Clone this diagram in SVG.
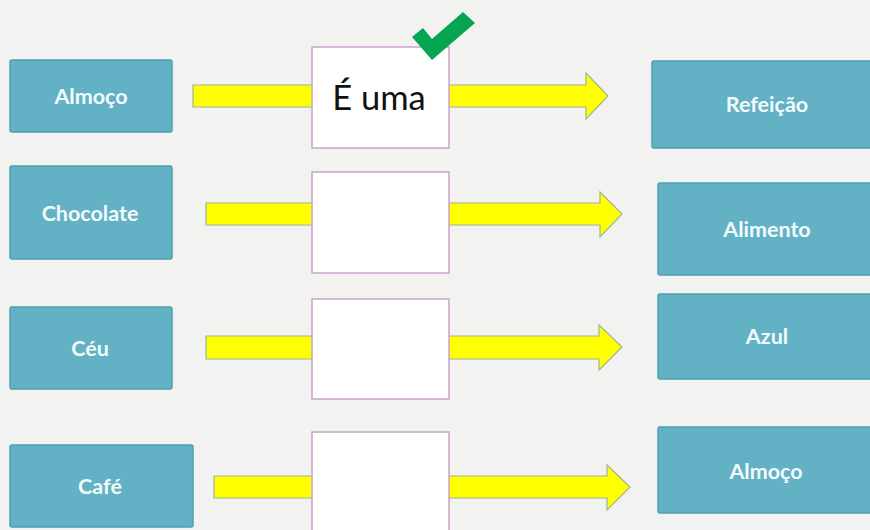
<svg xmlns="http://www.w3.org/2000/svg" width="870" height="530" viewBox="0 0 870 530">
<style>
.term{fill:#62b1c5;stroke:#519fb2;stroke-width:1.5}
.tl{font-family:Lato,"Open Sans","Liberation Sans",sans-serif;font-size:21.5px;font-weight:bold;fill:#f4fbfc;text-anchor:middle}
.mid{fill:#ffffff;stroke:#c9a3c9;stroke-width:1.5}
.arr{fill:#ffff00;stroke:#9cb59a;stroke-width:1.2}
.check{fill:#05a552}
</style>
<rect width="870" height="530" fill="#f2f2f1"/>
<g id="connectors">
<path class="arr" d="M193,85 H586 V73 L608,96 L586,119 V107 H193 Z"/>
<path class="arr" d="M206,203 H600 V192 L622,214 L600,237 V225 H206 Z"/>
<path class="arr" d="M206,336 H599 V325 L622,347 L599,370 V359 H206 Z"/>
<path class="arr" d="M214,476 H607 V465 L630,487 L607,510 V498 H214 Z"/>
</g>
<g id="left-almoco"><rect class="term" x="10" y="60" width="162" height="72" rx="2"/><text class="tl" x="91" y="96" dy="0.35em">Almoço</text></g>
<g id="left-chocolate"><rect class="term" x="10" y="166" width="162" height="93" rx="2"/><text class="tl" x="90" y="213" dy="0.35em">Chocolate</text></g>
<g id="left-ceu"><rect class="term" x="10" y="307" width="162" height="82" rx="2"/><text class="tl" x="90" y="348" dy="0.35em">Céu</text></g>
<g id="left-cafe"><rect class="term" x="10" y="445" width="183" height="82" rx="2"/><text class="tl" x="100" y="486" dy="0.35em">Café</text></g>
<g id="mid-1"><rect class="mid" x="312" y="47" width="137" height="101"/><text x="379" y="98" dy="0.35em" font-family="Lato,'Open Sans','Liberation Sans',sans-serif" font-size="34.5" fill="#111" text-anchor="middle">É uma</text></g>
<g id="mid-2"><rect class="mid" x="312" y="172" width="137" height="101"/></g>
<g id="mid-3"><rect class="mid" x="312" y="299" width="137" height="100"/></g>
<g id="mid-4"><rect class="mid" x="312" y="432" width="137" height="110"/></g>
<g id="check"><polygon class="check" points="412,37 423,28 432,39 463,12 475,23 432,60"/></g>
<g id="right-refeicao"><rect class="term" x="652" y="61" width="230" height="87" rx="2"/><text class="tl" x="767" y="104" dy="0.35em">Refeição</text></g>
<g id="right-alimento"><rect class="term" x="658" y="183" width="224" height="92" rx="2"/><text class="tl" x="767" y="229" dy="0.35em">Alimento</text></g>
<g id="right-azul"><rect class="term" x="658" y="294" width="224" height="85" rx="2"/><text class="tl" x="767" y="336" dy="0.35em">Azul</text></g>
<g id="right-almoco"><rect class="term" x="658" y="427" width="224" height="86" rx="2"/><text class="tl" x="766" y="471" dy="0.35em">Almoço</text></g>
</svg>
